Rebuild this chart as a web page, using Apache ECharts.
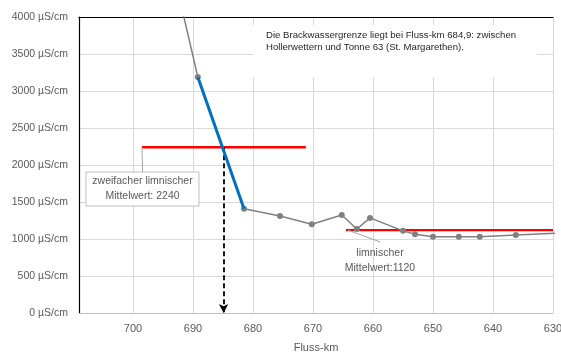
<!DOCTYPE html>
<html><head><meta charset="utf-8">
<script src="https://cdn.jsdelivr.net/npm/echarts@6/dist/echarts.min.js"></script>
<style>html,body{margin:0;padding:0;background:#fff}#c{width:561px;height:354px}</style>
</head><body><div id="c"></div>
<script>
// Data
const kmGray  = [693.5, 689.2, 681.5, 675.5, 670.2, 665.2, 662.7, 660.5, 655.0, 653.0, 650.0, 645.7, 642.2, 636.2, 628.0];
const valGray = [4690, 3190, 1410, 1310, 1200, 1325, 1135, 1285, 1110, 1065, 1030, 1030, 1030, 1055, 1085];
const kmBlue  = [689.2, 681.5];
const valBlue = [3190, 1410];
const kmRedHigh = [698.5, 671.2];
const redHigh = 2240;
const kmRedLow = [664.5, 630];
const redLow = 1120;
const brackKm = 684.9;
const leaderHighKm = [698.5, 698.4];
const leaderHighVal = [2240, 1905];
const leaderLowKm = [664.2, 658.8];
const leaderLowVal = [1120, 960];
const xTicks = [630, 640, 650, 660, 670, 680, 690, 700];
const yTicks = [0, 500, 1000, 1500, 2000, 2500, 3000, 3500, 4000];

const FONT = '"Liberation Sans", Arial, sans-serif';
const pair = (xs, ys) => xs.map((x, i) => [x, Array.isArray(ys) ? ys[i] : ys]);

const chart = echarts.init(document.getElementById('c'), null, {renderer: 'canvas'});
chart.setOption({
  animation: false,
  backgroundColor: '#fff',
  grid: {left: 79, right: 8, top: 17, bottom: 41, containLabel: false, outerBoundsMode: 'none'},
  xAxis: [{
    type: 'value', min: 630, max: 709, interval: 10, inverse: true,
    name: 'Fluss-km', nameLocation: 'middle', nameGap: 29,
    nameTextStyle: {color: '#595959', fontSize: 11, fontFamily: FONT},
    axisLine: {show: true, lineStyle: {color: '#bfbfbf', width: 1}},
    axisTick: {show: false},
    axisLabel: {color: '#595959', fontSize: 11, fontFamily: FONT, margin: 10, showMaxLabel: false,
      formatter: v => xTicks.includes(v) ? String(v) : ''},
    splitLine: {show: true, lineStyle: {color: '#d9d9d9', width: 1}}
  }, {
    type: 'value', position: 'top', min: 630, max: 709, inverse: true,
    axisLine: {show: true, onZero: false, lineStyle: {color: '#000', width: 1.2}},
    axisTick: {show: false}, axisLabel: {show: false}, splitLine: {show: false}
  }],
  yAxis: {
    type: 'value', min: 0, max: 4000, interval: 500,
    axisLine: {show: true, lineStyle: {color: '#000', width: 1.2}},
    axisTick: {show: false},
    axisLabel: {color: '#595959', fontSize: 10.5, fontFamily: FONT, margin: 11,
      formatter: v => yTicks.includes(v) ? v + ' µS/cm' : ''},
    splitLine: {show: true, lineStyle: {color: '#d9d9d9', width: 1}}
  },
  series: [
    {type: 'line', data: pair(kmRedHigh, redHigh), symbol: 'none', lineStyle: {color: '#ff0000', width: 2.3}, z: 3},
    {type: 'line', data: pair(kmRedLow, redLow), symbol: 'none', lineStyle: {color: '#ff0000', width: 2.3}, z: 3},
    {type: 'line', data: pair(leaderHighKm, leaderHighVal), symbol: 'none', lineStyle: {color: '#a6a6a6', width: 1}, z: 3},
    {type: 'line', data: pair(leaderLowKm, leaderLowVal), symbol: 'none', lineStyle: {color: '#a6a6a6', width: 1}, z: 3},
    {type: 'line', data: pair(kmGray, valGray), clip: true, symbol: 'circle', symbolSize: 6,
      itemStyle: {color: '#808080'}, lineStyle: {color: '#808080', width: 1.5}, z: 4},
    {type: 'line', data: pair(kmBlue, valBlue), symbol: 'none', lineStyle: {color: '#0070c0', width: 3}, z: 5},
    {type: 'line', data: [], z: 6,
      markLine: {silent: true, symbol: ['none', 'arrow'], symbolSize: [7, 9], label: {show: false},
        lineStyle: {color: '#000', width: 1.8, type: [5, 3]},
        data: [[{coord: [brackKm, redHigh]}, {coord: [brackKm, 0]}]]}}
  ],
  graphic: [
    {type: 'rect', shape: {x: 253, y: 25, width: 284, height: 52}, style: {fill: '#fff'}, z: 10},
    {type: 'text', left: 266, top: 29, z: 11,
      style: {text: 'Die Brackwassergrenze liegt bei Fluss-km 684,9: zwischen\nHollerwettern und Tonne 63 (St. Margarethen).',
        fill: '#262626', font: '9.6px ' + FONT, lineHeight: 12.5}},
    {type: 'rect', shape: {x: 86, y: 172, width: 113, height: 34}, style: {fill: '#fff', stroke: '#bfbfbf', lineWidth: 1}, z: 10},
    {type: 'text', x: 142.5, y: 189, z: 11,
      style: {text: 'zweifacher limnischer\nMittelwert: 2240', fill: '#595959', font: '10.5px ' + FONT,
        align: 'center', verticalAlign: 'middle', lineHeight: 15}},
    {type: 'text', x: 380, y: 260.5, z: 11,
      style: {text: 'limnischer\nMittelwert:1120', fill: '#595959', font: '10.5px ' + FONT,
        align: 'center', verticalAlign: 'middle', lineHeight: 15}}
  ]
});
</script></body></html>
